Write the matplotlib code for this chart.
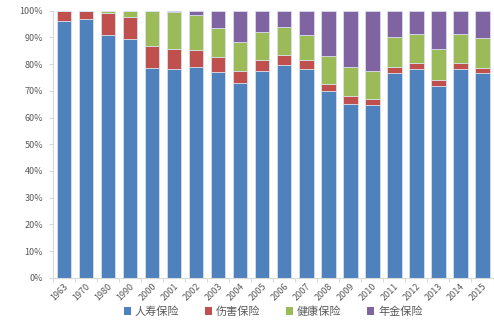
import numpy as np
import matplotlib.pyplot as plt
from matplotlib.patches import Patch

plt.rcParams['font.family'] = ['Noto Sans CJK SC', 'DejaVu Sans']

years = ['1963', '1970', '1980', '1990', '2000', '2001', '2002', '2003', '2004', '2005', '2006',
         '2007', '2008', '2009', '2010', '2011', '2012', '2013', '2014', '2015']
# share of each line, %
life = [96.0, 96.9, 91.0, 89.3, 78.7, 78.2, 78.8, 77.0, 73.0, 77.4, 79.7,
        78.2, 69.8, 65.2, 64.6, 76.6, 78.2, 71.8, 78.2, 76.7]
injury = [4.0, 3.0, 8.3, 8.3, 8.2, 7.6, 6.6, 5.5, 4.4, 4.0, 3.7,
          3.2, 2.9, 2.7, 2.4, 2.3, 2.2, 2.4, 2.1, 2.0]
health = [0.0, 0.1, 0.7, 2.4, 13.1, 13.8, 12.9, 11.1, 10.9, 10.5, 10.5,
          9.6, 10.2, 10.9, 10.3, 11.4, 11.0, 11.3, 11.1, 11.2]
annuity = [0.0, 0.0, 0.0, 0.0, 0.0, 0.4, 1.7, 6.4, 11.7, 8.1, 6.1,
           9.0, 17.1, 21.2, 22.7, 9.7, 8.6, 14.5, 8.6, 10.1]

names = ['人寿保险', '伤害保险', '健康保险', '年金保险']
colors = ['#4F81BD', '#C0504D', '#9BBB59', '#8064A2']
series = [life, injury, health, annuity]

fig = plt.figure(figsize=(4.94, 3.23), dpi=100)
ax = fig.add_axes([0.107, 0.14, 0.892, 0.827])

x = np.arange(len(years))
bottom = np.zeros(len(years))
for vals, c in zip(series, colors):
    vals = np.array(vals)
    ax.bar(x, vals, 0.66, bottom=bottom, color=c, edgecolor='#dde6f2', linewidth=0.5)
    bottom += vals

ax.set_xlim(-0.5, len(years) - 0.5)
ax.set_ylim(0, 100)
ax.set_yticks(np.arange(0, 101, 10))
ax.set_yticklabels([f'{v}%' for v in range(0, 101, 10)])
ax.set_xticks(x)
ax.set_xticklabels(years, rotation=45, ha='right', rotation_mode='anchor')
ax.set_xticks(np.arange(-0.5, len(years), 1), minor=True)

for s in ['top', 'right']:
    ax.spines[s].set_visible(False)
for s in ['left', 'bottom']:
    ax.spines[s].set_color('#d9d9d9')
    ax.spines[s].set_linewidth(0.8)
ax.tick_params(axis='y', colors='#d9d9d9', labelcolor='#595959', labelsize=6.5, length=3, width=0.8, pad=4)
ax.tick_params(axis='x', which='major', length=0, labelcolor='#595959', labelsize=6.5, pad=3)
ax.tick_params(axis='x', which='minor', length=3, color='#d9d9d9', width=0.8)

handles = [Patch(facecolor=c, label=n) for n, c in zip(names, colors)]
fig.legend(handles=handles, loc='center', bbox_to_anchor=(0.553, 0.035), ncol=4, frameon=False,
           fontsize=8, handlelength=0.65, handleheight=0.65, handletextpad=0.35, columnspacing=2.3,
           labelcolor='#595959')

plt.savefig('out.png', dpi=100)
